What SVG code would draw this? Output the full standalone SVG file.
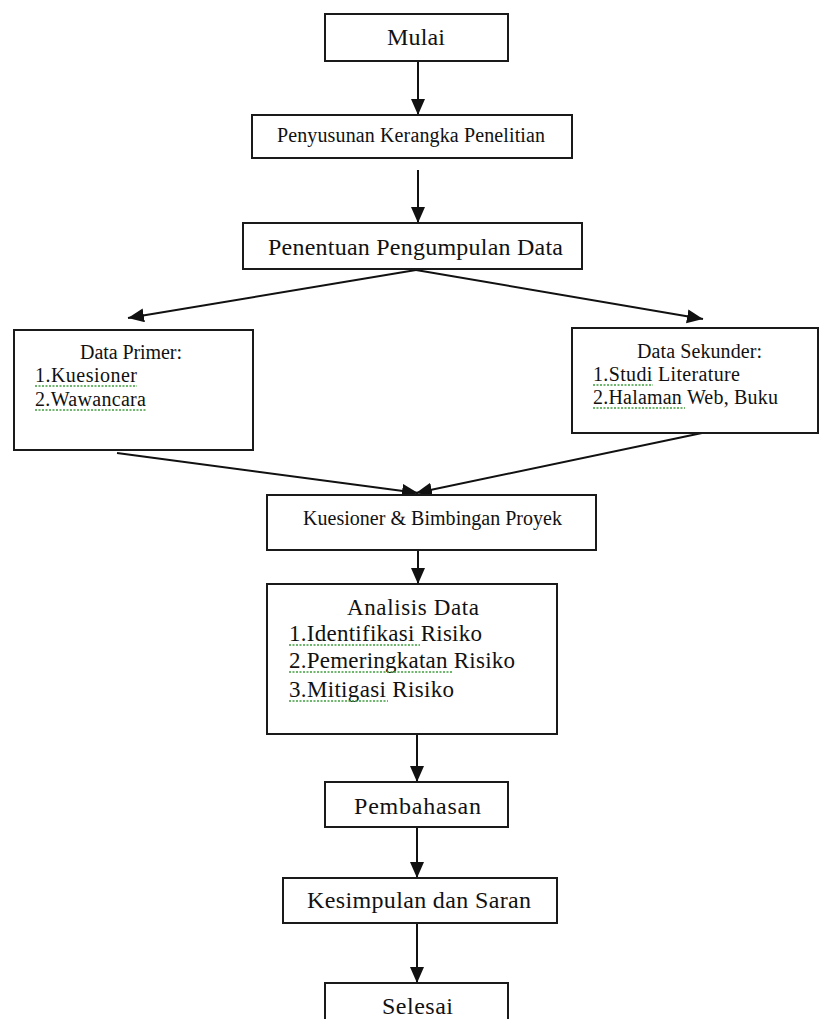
<svg xmlns="http://www.w3.org/2000/svg" width="819" height="1019" viewBox="0 0 819 1019">
<style>
.box{fill:#fff;stroke:#1a1a1a;stroke-width:2}
.t{font-family:"Liberation Serif","Times New Roman",serif;fill:#111}
.c{stroke:#111;stroke-width:2;fill:none}
.sq{stroke:#3f9f3f;stroke-width:1.6;stroke-dasharray:2 1.5;fill:none}
</style>
<defs>
<marker id="ah" markerUnits="userSpaceOnUse" markerWidth="17" markerHeight="15" refX="16" refY="7" orient="auto">
<path d="M0,0 L16,7 L0,14 z" fill="#111"/>
</marker>
</defs>
<rect width="819" height="1019" fill="#fff"/>
<g id="connectors">
<line class="c" x1="418" y1="61" x2="418" y2="115" marker-end="url(#ah)"/>
<line class="c" x1="418" y1="170" x2="418" y2="223" marker-end="url(#ah)"/>
<line class="c" x1="416" y1="270" x2="128" y2="318" marker-end="url(#ah)"/>
<line class="c" x1="416" y1="270" x2="703" y2="319" marker-end="url(#ah)"/>
<line class="c" x1="117" y1="453" x2="418" y2="493" marker-end="url(#ah)"/>
<line class="c" x1="702" y1="433" x2="416" y2="493" marker-end="url(#ah)"/>
<line class="c" x1="418" y1="528" x2="418" y2="584" marker-end="url(#ah)"/>
<line class="c" x1="417" y1="728" x2="417" y2="782" marker-end="url(#ah)"/>
<line class="c" x1="417" y1="827" x2="417" y2="878" marker-end="url(#ah)"/>
<line class="c" x1="417" y1="923" x2="417" y2="983" marker-end="url(#ah)"/>
</g>
<g id="mulai">
<rect class="box" x="325" y="14" width="183" height="47"/>
<text class="t" x="416" y="45" font-size="24" text-anchor="middle" textLength="58">Mulai</text>
</g>
<g id="penyusunan">
<rect class="box" x="252" y="115" width="320" height="43"/>
<text class="t" x="277" y="142" font-size="20" textLength="268">Penyusunan Kerangka Penelitian</text>
</g>
<g id="penentuan">
<rect class="box" x="243" y="223" width="339" height="46"/>
<text class="t" x="268" y="255" font-size="24" textLength="295">Penentuan Pengumpulan Data</text>
</g>
<g id="primer">
<rect class="box" x="14" y="330" width="239" height="120"/>
<text class="t" x="80" y="359" font-size="20" textLength="102">Data Primer:</text>
<text class="t" x="35" y="382" font-size="20" textLength="102">1.Kuesioner</text>
<text class="t" x="35" y="406" font-size="20" textLength="111">2.Wawancara</text>
<line class="sq" x1="35" y1="386" x2="137" y2="386"/>
<line class="sq" x1="35" y1="410" x2="146" y2="410"/>
</g>
<g id="sekunder">
<rect class="box" x="572" y="328" width="246" height="105"/>
<text class="t" x="637" y="358" font-size="20" textLength="125">Data Sekunder:</text>
<text class="t" x="593" y="381" font-size="20" textLength="147">1.Studi Literature</text>
<text class="t" x="593" y="404" font-size="20" textLength="185">2.Halaman Web, Buku</text>
<line class="sq" x1="593" y1="385" x2="653" y2="385"/>
<line class="sq" x1="593" y1="408" x2="685" y2="408"/>
</g>
<g id="kuesioner">
<rect class="box" x="267" y="495" width="329" height="55"/>
<text class="t" x="303" y="525" font-size="20" textLength="259">Kuesioner &amp; Bimbingan Proyek</text>
</g>
<g id="analisis">
<rect class="box" x="267" y="584" width="290" height="150"/>
<text class="t" x="347" y="615" font-size="23" textLength="132">Analisis Data</text>
<text class="t" x="289" y="641" font-size="23" textLength="193">1.Identifikasi Risiko</text>
<text class="t" x="289" y="668" font-size="23" textLength="226">2.Pemeringkatan Risiko</text>
<text class="t" x="289" y="697" font-size="23" textLength="165">3.Mitigasi Risiko</text>
<line class="sq" x1="289" y1="645" x2="420" y2="645"/>
<line class="sq" x1="289" y1="672" x2="452" y2="672"/>
<line class="sq" x1="289" y1="701" x2="388" y2="701"/>
</g>
<g id="pembahasan">
<rect class="box" x="325" y="782" width="183" height="45"/>
<text class="t" x="354" y="814" font-size="24" textLength="127">Pembahasan</text>
</g>
<g id="kesimpulan">
<rect class="box" x="283" y="878" width="274" height="45"/>
<text class="t" x="307" y="908" font-size="24" textLength="224">Kesimpulan dan Saran</text>
</g>
<g id="selesai">
<rect class="box" x="325" y="983" width="183" height="50"/>
<text class="t" x="382" y="1014" font-size="24" textLength="71">Selesai</text>
</g>
</svg>
